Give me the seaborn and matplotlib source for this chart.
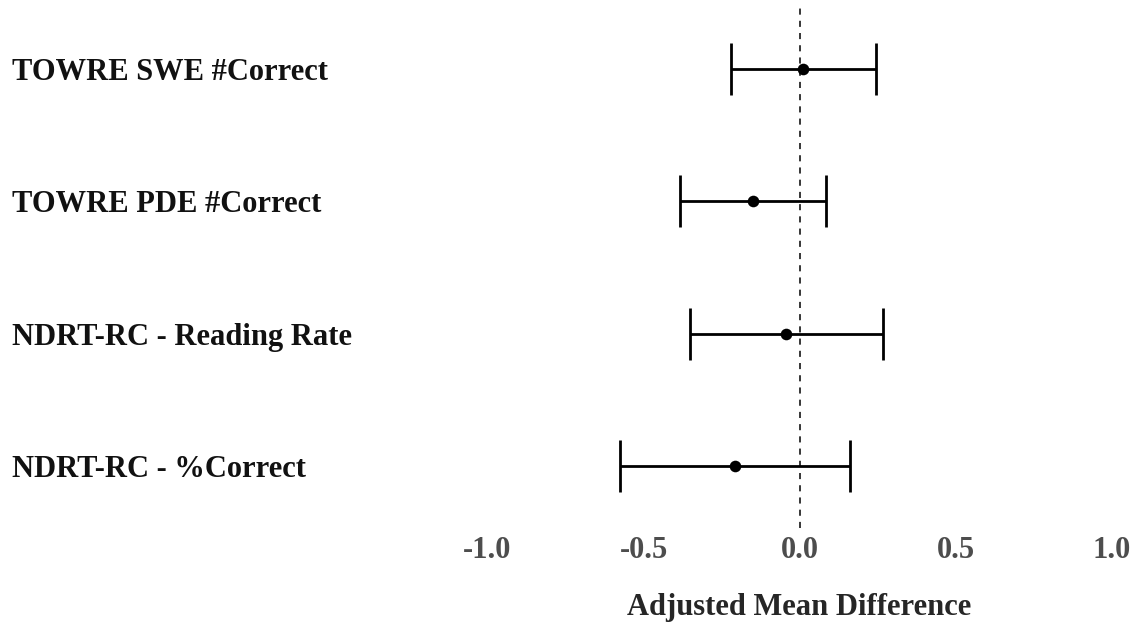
import matplotlib
matplotlib.use("Agg")
import matplotlib.pyplot as plt
import seaborn as sns
import pandas as pd
import numpy as np

sns.set_style("white")
plt.rcParams["font.family"] = ["Liberation Serif", "DejaVu Serif"]
plt.rcParams["font.weight"] = "bold"

# outcomes top to bottom
outcomes = ["TOWRE SWE #Correct", "TOWRE PDE #Correct",
            "NDRT-RC - Reading Rate", "NDRT-RC - %Correct"]
estimate = [0.012, -0.149, -0.043, -0.206]
ci_low = [-0.221, -0.384, -0.352, -0.574]
ci_high = [0.244, 0.085, 0.267, 0.162]
x_ticks = [-1.0, -0.5, 0.0, 0.5, 1.0]

df = pd.DataFrame({"outcome": outcomes, "est": estimate,
                   "lo": ci_low, "hi": ci_high})
df["pos"] = np.arange(len(df))

fig = plt.figure(figsize=(11.35, 6.22), dpi=100)
ax = fig.add_axes([0.413, 0.151, 0.583, 0.838])

ax.axvline(0, color="black", lw=1.1, ls=(0, (4, 4)), zorder=1)
ax.errorbar(df["est"], df["pos"],
            xerr=[df["est"] - df["lo"], df["hi"] - df["est"]],
            fmt="none", ecolor="black", elinewidth=2.0,
            capsize=18.5, capthick=2.0, zorder=2)
sns.scatterplot(data=df, x="est", y="pos", color="black", s=70,
                edgecolor="black", linewidth=0, ax=ax, zorder=3)

ax.set_xlim(-1.06, 1.06)
ax.set_ylim(3.47, -0.47)
ax.set_xticks(x_ticks)
ax.set_xticklabels([f"{t:.1f}" for t in x_ticks], fontsize=22,
                   color="#4d4d4d", fontweight="bold")
ax.set_yticks(df["pos"])
ax.set_yticklabels(df["outcome"], fontsize=22, color="#111111",
                   fontweight="bold", ha="left")
ax.tick_params(axis="y", length=0, pad=329)
ax.tick_params(axis="x", length=3, width=0.8, color="#bbbbbb", pad=3)

ax.set_xlabel("Adjusted Mean Difference", fontsize=22,
              fontweight="bold", labelpad=20)
ax.set_ylabel("")
for s in ax.spines.values():
    s.set_visible(False)

fig.savefig("out.png", dpi=100)
